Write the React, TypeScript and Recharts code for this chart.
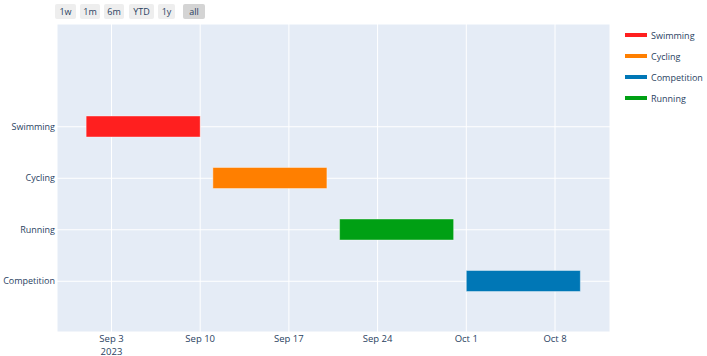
import React from 'react';
import { Bar, BarChart, CartesianGrid, Cell, XAxis, YAxis } from 'recharts';

const tasks = ['Swimming', 'Cycling', 'Running', 'Competition'];
const startDates = ['2023-09-01', '2023-09-11', '2023-09-21', '2023-10-01'];
const endDates = ['2023-09-10', '2023-09-20', '2023-09-30', '2023-10-10'];
const taskColors = ['#ff1f1f', '#ff7f00', '#00a014', '#0077b6'];
const legendOrder = ['Swimming', 'Cycling', 'Competition', 'Running'];
const tickDates = ['2023-09-03', '2023-09-10', '2023-09-17', '2023-09-24', '2023-10-01', '2023-10-08'];
const rangeButtons = ['1w', '1m', '6m', 'YTD', '1y', 'all'];

const MONTHS = ['Jan', 'Feb', 'Mar', 'Apr', 'May', 'Jun', 'Jul', 'Aug', 'Sep', 'Oct', 'Nov', 'Dec'];
const FONT = '"Open Sans", "DejaVu Sans", sans-serif';
const TEXT = '#2a3f5f';

// dates as day numbers (UTC)
const toDay = (s: string) => {
  const [y, m, d] = s.split('-').map(Number);
  return Date.UTC(y, m - 1, d) / 86400000;
};

const data = tasks.map((task, i) => ({
  task,
  range: [toDay(startDates[i]), toDay(endDates[i])],
}));

const xTicks = tickDates.map(toDay);
const xDomain = [toDay('2023-08-29') + 0.7, toDay('2023-10-12') + 0.34];

const colorOf = (name: string) => taskColors[tasks.indexOf(name)];

const DateTick = (props: any) => {
  const { x, y, payload, index } = props;
  const d = new Date(payload.value * 86400000);
  const label = `${MONTHS[d.getUTCMonth()]} ${d.getUTCDate()}`;
  return (
    <g>
      <text x={x} y={y + 10} textAnchor="middle" fill={TEXT} fontSize={9.5} fontFamily={FONT}>
        {label}
      </text>
      {index === 0 && (
        <text x={x} y={y + 22.5} textAnchor="middle" fill={TEXT} fontSize={9.5} fontFamily={FONT}>
          {d.getUTCFullYear()}
        </text>
      )}
    </g>
  );
};

const buttonX = [55, 80, 104, 129, 158, 183];
const buttonW = [21, 20, 20, 25, 17, 22];

export default function App() {
  return (
    <div style={{ position: 'absolute', left: 0, top: 0, width: 707, height: 356, background: '#fff', fontFamily: FONT }}>
      <BarChart
        width={707}
        height={356}
        data={data}
        layout="vertical"
        margin={{ top: 24, right: 97, bottom: 0, left: 0 }}
      >
        <CartesianGrid fill="#e5ecf6" stroke="#ffffff" strokeWidth={1} />
        <XAxis
          type="number"
          dataKey="range"
          domain={xDomain}
          ticks={xTicks}
          allowDataOverflow
          tick={<DateTick />}
          tickLine={false}
          axisLine={false}
          tickSize={0}
          tickMargin={0}
          height={24}
        />
        <YAxis
          type="category"
          dataKey="task"
          width={57}
          padding={{ top: 77, bottom: 25 }}
          tickLine={false}
          axisLine={false}
          tickSize={0}
          tickMargin={2}
          tick={{ fill: TEXT, fontSize: 9, fontFamily: FONT }}
        />
        <Bar dataKey="range" barSize={21} isAnimationActive={false} stroke="#ffffff" strokeOpacity={0.4} strokeWidth={1}>
          {data.map((d, i) => (
            <Cell key={d.task} fill={taskColors[i]} />
          ))}
        </Bar>
      </BarChart>

      {rangeButtons.map((b, i) => (
        <div
          key={b}
          style={{
            position: 'absolute',
            left: buttonX[i],
            top: 4,
            width: buttonW[i],
            height: 15,
            lineHeight: '15px',
            textAlign: 'center',
            fontSize: 9,
            color: TEXT,
            background: b === 'all' ? '#d4d4d4' : '#eeeeee',
            borderRadius: 2,
          }}
        >
          {b}
        </div>
      ))}

      {legendOrder.map((name, i) => (
        <div
          key={name}
          style={{ position: 'absolute', left: 625, top: 28 + i * 21, height: 14, display: 'flex', alignItems: 'center' }}
        >
          <div style={{ width: 22, height: 4, background: colorOf(name) }} />
          <span style={{ marginLeft: 4, fontSize: 9, color: TEXT }}>{name}</span>
        </div>
      ))}
    </div>
  );
}
